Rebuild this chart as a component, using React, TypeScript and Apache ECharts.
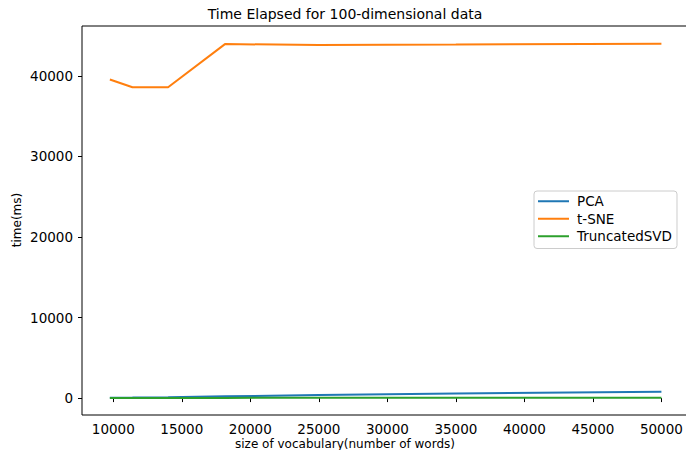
import React, { useEffect, useRef } from "react";
import * as echarts from "echarts";

// Vocabulary sizes (number of words) at which each method was timed
const sizes = [9750, 11400, 14000, 18150, 25000, 35000, 50000];
// Elapsed time in milliseconds
const pcaTime = [50, 60, 100, 220, 380, 560, 800];
const tsneTime = [39550, 38600, 38600, 43950, 43850, 43900, 44000];
const svdTime = [20, 20, 25, 25, 30, 30, 35];

const xTicks = [10000, 15000, 20000, 25000, 30000, 35000, 40000, 45000, 50000];
const yTicks = [0, 10000, 20000, 30000, 40000];

const FONT = "DejaVu Sans";
const pairs = (ys: number[]) => sizes.map((x, i) => [x, ys[i]]);

export default function App() {
  const ref = useRef<HTMLDivElement>(null);

  useEffect(() => {
    const chart = echarts.init(ref.current!, null, { renderer: "svg" });
    const tickLabel = {
      fontSize: 13.5,
      color: "#000",
      fontFamily: FONT,
      formatter: (v: number) => String(v),
    };
    chart.setOption({
      animation: false,
      backgroundColor: "#fff",
      grid: {
        left: 82,
        top: 26,
        width: 607,
        height: 389,
        show: true,
        borderColor: "#000",
        borderWidth: 1,
        backgroundColor: "transparent",
        outerBoundsMode: "none",
      },
      xAxis: {
        type: "value",
        min: 7717,
        max: 52013,
        splitLine: { show: false },
        axisLine: { show: false },
        axisTick: { show: true, length: 4, customValues: xTicks, lineStyle: { color: "#000" } },
        axisLabel: { ...tickLabel, margin: 7, customValues: xTicks },
      },
      yAxis: {
        type: "value",
        min: -2100,
        max: 46200,
        splitLine: { show: false },
        axisLine: { show: false },
        axisTick: { show: true, length: 4, customValues: yTicks, lineStyle: { color: "#000" } },
        axisLabel: { ...tickLabel, margin: 9, customValues: yTicks },
      },
      legend: {
        data: ["PCA", "t-SNE", "TruncatedSVD"],
        orient: "vertical",
        left: 534,
        top: 191,
        icon: "rect",
        itemWidth: 31,
        itemHeight: 2,
        itemGap: 3,
        padding: [3, 5, 5, 4],
        borderColor: "#cccccc",
        borderWidth: 1,
        borderRadius: 3,
        backgroundColor: "rgba(255,255,255,0.8)",
        textStyle: {
          fontSize: 13.5,
          color: "#000",
          fontFamily: FONT,
          padding: [0, 0, 0, 3],
          lineHeight: 14.5,
        },
      },
      series: [
        { name: "PCA", data: pairs(pcaTime), color: "#1f77b4" },
        { name: "t-SNE", data: pairs(tsneTime), color: "#ff7f0e" },
        { name: "TruncatedSVD", data: pairs(svdTime), color: "#2ca02c" },
      ].map((s) => ({
        ...s,
        type: "line",
        symbol: "none",
        showSymbol: false,
        lineStyle: { width: 2, color: s.color },
        itemStyle: { color: s.color },
      })),
      graphic: [
        {
          type: "text",
          x: 345,
          y: 14,
          style: {
            text: "Time Elapsed for 100-dimensional data",
            fontSize: 14,
            fontFamily: FONT,
            fill: "#000",
            align: "center",
            verticalAlign: "middle",
          },
        },
        {
          type: "text",
          x: 345,
          y: 444,
          style: {
            text: "size of vocabulary(number of words)",
            fontSize: 12,
            fontFamily: FONT,
            fill: "#000",
            align: "center",
            verticalAlign: "middle",
          },
        },
        {
          type: "text",
          x: 17,
          y: 220,
          rotation: Math.PI / 2,
          style: {
            text: "time(ms)",
            fontSize: 12,
            fontFamily: FONT,
            fill: "#000",
            align: "center",
            verticalAlign: "middle",
          },
        },
      ],
    });
    return () => chart.dispose();
  }, []);

  return (
    <div
      ref={ref}
      style={{ position: "fixed", left: 0, top: 0, width: 686, height: 450, background: "#fff" }}
    />
  );
}
